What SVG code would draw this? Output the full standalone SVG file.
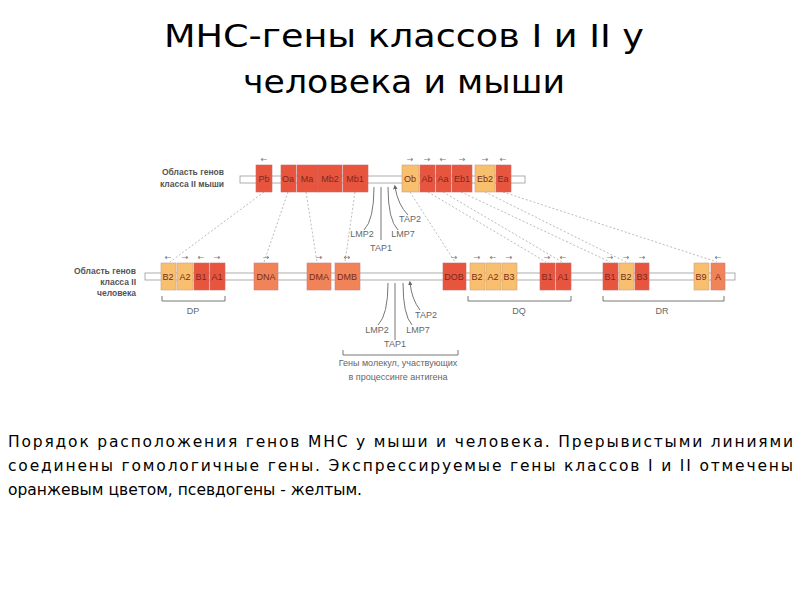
<svg xmlns="http://www.w3.org/2000/svg" width="800" height="600" viewBox="0 0 800 600">
<style>
.t{font-family:"DejaVu Sans",sans-serif;fill:#000}
.g{font-family:"Liberation Sans",sans-serif;font-size:9px;fill:#666;text-anchor:middle}
.gl{font-family:"Liberation Sans",sans-serif;font-size:8.5px;font-weight:bold;fill:#555;text-anchor:end}
.r{fill:#e8553f;stroke:#c96a6a;stroke-width:0.6}
.o{fill:#f08458;stroke:#d08080;stroke-width:0.6}
.y{fill:#f7bf6e;stroke:#d0a080;stroke-width:0.6}
.bx text{font-family:"Liberation Sans",sans-serif;font-size:9px;fill:#7a2a20;text-anchor:middle}
.bar{fill:#fff;stroke:#999;stroke-width:0.8}
.d{stroke:#aaa;stroke-width:0.8;stroke-dasharray:2 2;fill:none}
.a{stroke:#666;stroke-width:0.9;fill:none;marker-end:url(#ah)}
.br{stroke:#777;stroke-width:1;fill:none}
.dir{font-family:"DejaVu Sans",sans-serif;font-size:8px;fill:#777;text-anchor:middle}
</style>
<defs><marker id="ah" markerWidth="5" markerHeight="5" refX="2.5" refY="2.5" orient="auto"><path d="M0,0L5,2.5L0,5z" fill="#666"/></marker></defs>
<rect width="800" height="600" fill="#fff"/>
<text class="t" x="404" y="47" font-size="32" text-anchor="middle" textLength="480" lengthAdjust="spacingAndGlyphs">МНС-гены классов I и II у</text>
<text class="t" x="404" y="93" font-size="32" text-anchor="middle" textLength="322" lengthAdjust="spacingAndGlyphs">человека и мыши</text>
<text class="gl" x="224" y="175">Область генов</text>
<text class="gl" x="224" y="187">класса II мыши</text>
<text class="gl" x="136" y="274">Область генов</text>
<text class="gl" x="136" y="285">класса II</text>
<text class="gl" x="136" y="296">человека</text>
<g id="connectors">
<path class="d" d="M264,192L170,262M288,192L264,262M306,192L317,262M355,192L345,262M410,192L455,262M428,192L546,262M443,192L562,262M461,192L610,262M485,192L626,262M503,192L717,262"/>
<path class="a" d="M364,230Q374,220 374,187M381,240L381,187M398,230Q388,220 388,187M408,215Q398,205 395,187"/>
<path class="a" d="M378,325Q388,315 388,283M395,340L395,283M412,325Q403,315 403,283M420,310Q412,300 410,283"/>
</g>
<rect class="bar" x="240" y="176" width="285" height="7"/>
<rect class="bar" x="145" y="273" width="590" height="7"/>
<g class="bx">
<g id="Pb"><rect class="r" x="256" y="165" width="16" height="27"/><text x="264" y="182">Pb</text></g>
<g id="Oa"><rect class="r" x="281" y="165" width="15" height="27"/><text x="288" y="182">Oa</text></g>
<g id="Ma"><rect class="r" x="297" y="165" width="21" height="27"/><text x="307" y="182">Ma</text></g>
<g id="Mb2"><rect class="r" x="318" y="165" width="24" height="27"/><text x="330" y="182">Mb2</text></g>
<g id="Mb1"><rect class="r" x="343" y="165" width="25" height="27"/><text x="355" y="182">Mb1</text></g>
<g id="Ob"><rect class="y" x="402" y="165" width="17" height="27"/><text x="410" y="182">Ob</text></g>
<g id="Ab"><rect class="r" x="420" y="165" width="15" height="27"/><text x="427" y="182">Ab</text></g>
<g id="Aa"><rect class="r" x="436" y="165" width="15" height="27"/><text x="443" y="182">Aa</text></g>
<g id="Eb1"><rect class="r" x="452" y="165" width="20" height="27"/><text x="462" y="182">Eb1</text></g>
<g id="Eb2"><rect class="y" x="475" y="165" width="20" height="27"/><text x="485" y="182">Eb2</text></g>
<g id="Ea"><rect class="r" x="496" y="165" width="15" height="27"/><text x="503" y="182">Ea</text></g>
<g id="hB2"><rect class="y" x="161" y="263" width="15" height="27"/><text x="168" y="280">B2</text></g>
<g id="hA2"><rect class="y" x="177" y="263" width="16" height="27"/><text x="185" y="280">A2</text></g>
<g id="hB1"><rect class="r" x="194" y="263" width="15" height="27"/><text x="201" y="280">B1</text></g>
<g id="hA1"><rect class="r" x="210" y="263" width="15" height="27"/><text x="217" y="280">A1</text></g>
<g id="DNA"><rect class="o" x="254" y="263" width="24" height="27"/><text x="266" y="280">DNA</text></g>
<g id="DMA"><rect class="o" x="307" y="263" width="24" height="27"/><text x="319" y="280">DMA</text></g>
<g id="DMB"><rect class="o" x="335" y="263" width="25" height="27"/><text x="347" y="280">DMB</text></g>
<g id="DOB"><rect class="r" x="443" y="263" width="23" height="27"/><text x="454" y="280">DOB</text></g>
<g id="qB2"><rect class="y" x="470" y="263" width="15" height="27"/><text x="477" y="280">B2</text></g>
<g id="qA2"><rect class="y" x="486" y="263" width="15" height="27"/><text x="493" y="280">A2</text></g>
<g id="qB3"><rect class="y" x="502" y="263" width="15" height="27"/><text x="509" y="280">B3</text></g>
<g id="qB1"><rect class="r" x="540" y="263" width="15" height="27"/><text x="547" y="280">B1</text></g>
<g id="qA1"><rect class="r" x="556" y="263" width="15" height="27"/><text x="563" y="280">A1</text></g>
<g id="rB1"><rect class="r" x="603" y="263" width="15" height="27"/><text x="610" y="280">B1</text></g>
<g id="rB2"><rect class="y" x="619" y="263" width="15" height="27"/><text x="626" y="280">B2</text></g>
<g id="rB3"><rect class="r" x="635" y="263" width="14" height="27"/><text x="642" y="280">B3</text></g>
<g id="rB9"><rect class="y" x="694" y="263" width="15" height="27"/><text x="701" y="280">B9</text></g>
<g id="rA"><rect class="o" x="711" y="263" width="14" height="27"/><text x="718" y="280">A</text></g>
</g>
<g>
<text class="dir" x="264" y="162">←</text><text class="dir" x="410" y="162">→</text><text class="dir" x="427" y="162">→</text><text class="dir" x="443" y="162">←</text><text class="dir" x="462" y="162">→</text><text class="dir" x="485" y="162">→</text><text class="dir" x="503" y="162">←</text>
<text class="dir" x="168" y="260">←</text><text class="dir" x="185" y="260">→</text><text class="dir" x="201" y="260">←</text><text class="dir" x="217" y="260">→</text><text class="dir" x="266" y="260">→</text><text class="dir" x="319" y="260">→</text><text class="dir" x="347" y="260">↔</text>
<text class="dir" x="454" y="260">→</text><text class="dir" x="477" y="260">→</text><text class="dir" x="493" y="260">←</text><text class="dir" x="509" y="260">→</text><text class="dir" x="547" y="260">→</text><text class="dir" x="563" y="260">←</text><text class="dir" x="610" y="260">→</text><text class="dir" x="626" y="260">→</text><text class="dir" x="642" y="260">→</text><text class="dir" x="718" y="260">←</text>
</g>
<path class="br" d="M162,296V301H225V296M468,296V301H571V296M603,296V301H724V296M343,350V355H458V350"/>
<text class="g" x="193" y="314">DP</text><text class="g" x="519" y="314">DQ</text><text class="g" x="662" y="314">DR</text>
<text class="g" x="362" y="237">LMP2</text><text class="g" x="381" y="251">TAP1</text><text class="g" x="403" y="237">LMP7</text><text class="g" x="410" y="222">TAP2</text>
<text class="g" x="377" y="333">LMP2</text><text class="g" x="395" y="347">TAP1</text><text class="g" x="418" y="333">LMP7</text><text class="g" x="426" y="318">TAP2</text>
<text class="g" x="398" y="366">Гены молекул, участвующих</text>
<text class="g" x="398" y="380">в процессинге антигена</text>
<g class="t" font-size="15.5">
<text x="8" y="447" textLength="785" lengthAdjust="spacing">Порядок расположения генов МНС у мыши и человека. Прерывистыми линиями</text>
<text x="8" y="471" textLength="785" lengthAdjust="spacing">соединены гомологичные гены. Экспрессируемые гены классов I и II отмечены</text>
<text x="8" y="495">оранжевым цветом, псевдогены - желтым.</text>
</g>
</svg>
